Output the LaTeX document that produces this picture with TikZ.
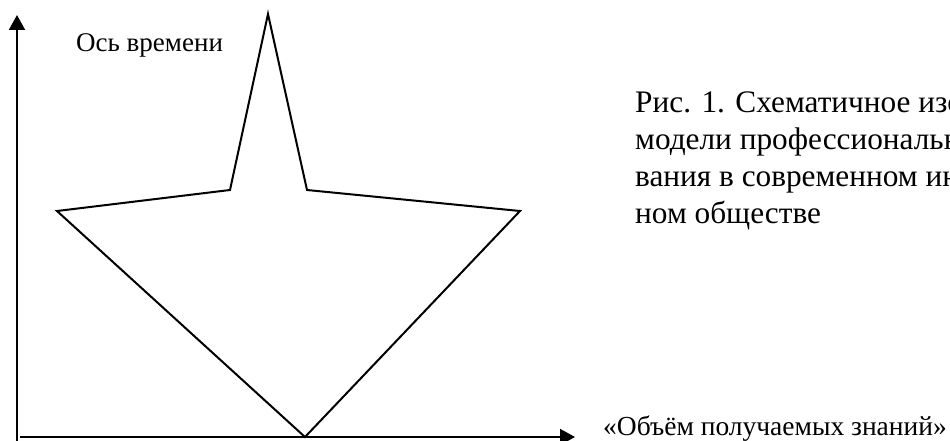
\documentclass[tikz,border=0pt]{standalone}
\usepackage{fontspec}
\setmainfont{Liberation Serif}
\usetikzlibrary{arrows.meta}
\begin{document}
\begin{tikzpicture}[x=1pt,y=-1pt,
  axis/.style={line width=2pt,-{Triangle[length=15pt,width=16pt]}},
  starline/.style={line width=2pt,line join=miter},
  lbl/.style={inner sep=0pt,anchor=base west,font=\fontsize{27}{30}\selectfont},
  captext/.style={inner sep=0pt,anchor=base west,font=\fontsize{31.3}{37}\selectfont}]
\useasboundingbox (0,0) rectangle (950,441);
\clip (0,0) rectangle (950,441);
% axes
\coordinate (o) at (17,441);
\coordinate (ytip) at (17,15);
\coordinate (xs) at (20,437);
\coordinate (xtip) at (575,437);
\draw[axis] (o) -- (ytip);
\draw[axis] (xs) -- (xtip);
% star
\coordinate (apex) at (268,14);
\coordinate (li) at (230,190);
\coordinate (ri) at (307,190);
\coordinate (lo) at (57,211);
\coordinate (ro) at (520,211);
\coordinate (bot) at (305,437);
\draw[starline] (apex) -- (ri) -- (ro) -- (bot) -- (lo) -- (li) -- cycle;
% labels
\node[lbl] (tlab) at (76,52) {Ось времени};
\node[lbl,font=\fontsize{27.5}{30}\selectfont] (xlab) at (603,435) {«Объём получаемых знаний»};
\node[captext] (c1) at (635,113) {Рис. 1. Схематичное изображение};
\node[captext] (c2) at (635,149.7) {модели профессионального образо-};
\node[captext] (c3) at (635,186.4) {вания в современном информацион-};
\node[captext] (c4) at (635,223) {ном обществе};
\end{tikzpicture}
\end{document}
